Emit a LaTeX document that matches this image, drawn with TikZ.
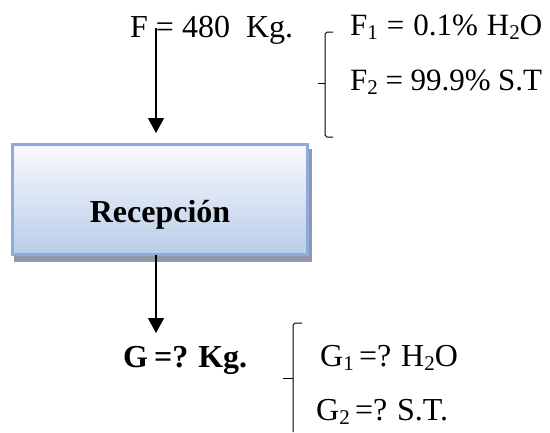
\documentclass[tikz,border=0pt]{standalone}
\usepackage{fontspec}
\setmainfont{Liberation Serif}
\usetikzlibrary{arrows.meta}
\definecolor{boxedge}{HTML}{8FAADC}
\definecolor{boxtop}{HTML}{F9FAFD}
\definecolor{boxbot}{HTML}{B9CCE8}
\definecolor{shadowgray}{HTML}{8F99AA}
\newcommand{\lowsub}[1]{\raisebox{-4pt}{\fontsize{21}{21}\selectfont #1}}
\newcommand{\spanbox}[2]{\makebox[#1][s]{#2}}
\tikzset{
  txt/.style={inner sep=0pt, anchor=base west, font=\fontsize{32}{36}\selectfont},
  smalltxt/.style={inner sep=0pt, anchor=base west, font=\fontsize{31}{36}\selectfont},
  boldtxt/.style={txt, font=\fontsize{32}{36}\selectfont\bfseries},
  flowarrow/.style={line width=1.4pt, -{Triangle[length=15pt,width=16pt]}},
  bracket/.style={line width=1pt},
  procbox/.style={draw=boxedge, line width=3pt, top color=boxtop, bottom color=boxbot,
    minimum width=295pt, minimum height=110pt, inner sep=0pt, outer sep=0pt}
}
\begin{document}
\begin{tikzpicture}[x=1pt,y=-1pt]
\useasboundingbox (0,0) rectangle (550,432);
% shadow
\fill[shadowgray] (14,149) rectangle (312,262);
\node[procbox] (box) at (160,199.5) {};
\node[inner sep=0pt, anchor=base, font=\fontsize{32}{36}\selectfont\bfseries] (lbl) at (160,222) {Recepción};
% input text
\node[txt] (fin) at (130,37) {\spanbox{163pt}{F = 480\ \ Kg.}};
\node[smalltxt] (f1) at (350,35) {\spanbox{192pt}{F\lowsub{1} = 0.1\% H\lowsub{2}O}};
\node[smalltxt] (f2) at (350,90) {\spanbox{192pt}{F\lowsub{2} = 99.9\% S.T}};
% output text
\node[boldtxt] (gout) at (123,367) {\spanbox{124pt}{G =? Kg.}};
\node[txt] (g1) at (320,366) {\spanbox{137pt}{G\lowsub{1} =? H\lowsub{2}O}};
\node[txt] (g2) at (316,420) {\spanbox{131pt}{G\lowsub{2} =? S.T.}};
% arrows
\coordinate (a1s) at (156,28);
\coordinate (a1e) at (156,133);
\coordinate (a2e) at (156,333);
\draw[flowarrow] (a1s) -- (a1e);
\draw[flowarrow] (box.south -| a2e) -- (a2e);
% braces
\draw[bracket] (333,32) -- (327,32) -- (325,34) -- (325,135) -- (327,137) -- (333,137);
\draw[bracket] (325,83) -- (318,83);
\draw[bracket] (302,323) -- (295,323) -- (293,325) -- (293,432);
\draw[bracket] (293,378) -- (283,378);
\end{tikzpicture}
\end{document}
